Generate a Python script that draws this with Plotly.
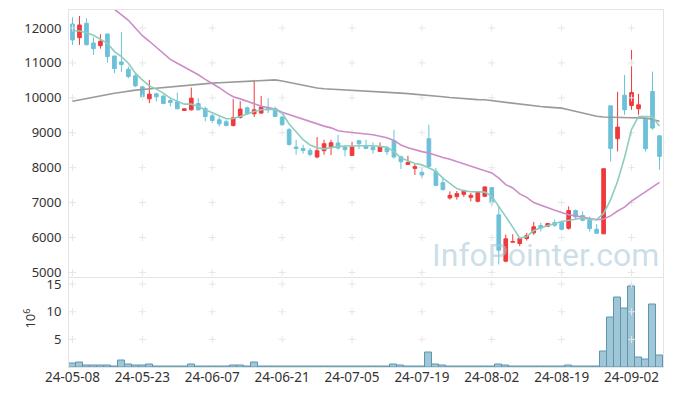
import plotly.graph_objects as go

dates = [
    "24-05-08", "24-05-09", "24-05-10", "24-05-13", "24-05-14", "24-05-16", "24-05-17",
    "24-05-20", "24-05-21", "24-05-22", "24-05-23", "24-05-24", "24-05-27", "24-05-28",
    "24-05-29", "24-05-30", "24-05-31", "24-06-03", "24-06-04", "24-06-05", "24-06-07",
    "24-06-10", "24-06-11", "24-06-12", "24-06-13", "24-06-14", "24-06-17", "24-06-18",
    "24-06-19", "24-06-20", "24-06-21", "24-06-24", "24-06-25", "24-06-26", "24-06-27",
    "24-06-28", "24-07-01", "24-07-02", "24-07-03", "24-07-04", "24-07-05", "24-07-08",
    "24-07-09", "24-07-10", "24-07-11", "24-07-12", "24-07-15", "24-07-16", "24-07-17",
    "24-07-18", "24-07-19", "24-07-22", "24-07-23", "24-07-24", "24-07-25", "24-07-26",
    "24-07-29", "24-07-30", "24-07-31", "24-08-01", "24-08-02", "24-08-05", "24-08-06",
    "24-08-07", "24-08-08", "24-08-09", "24-08-12", "24-08-13", "24-08-14", "24-08-16",
    "24-08-19", "24-08-20", "24-08-21", "24-08-22", "24-08-23", "24-08-26", "24-08-27",
    "24-08-28", "24-08-29", "24-08-30", "24-09-02", "24-09-03", "24-09-04", "24-09-05",
    "24-09-06",
]

open_ = [12114, 11723, 12134, 11571, 11494, 11829, 11200, 11029, 10820, 10629,
         10314, 9971, 10114, 10049, 9923, 9886, 9637, 9657, 9837, 9694,
         9486, 9371, 9314, 9209, 9437, 9714, 9543, 9563, 9714, 9694,
         9449, 9086, 8591, 8551, 8494, 8306, 8486, 8600, 8706, 8591,
         8351, 8771, 8629, 8591, 8466, 8563, 8771, 8314, 8094, 7980,
         7866, 8829, 7886, 7571, 7134, 7171, 7237, 7151, 7037, 7180,
         7429, 6649, 5323, 5866, 5829, 5971, 6134, 6343, 6323, 6429,
         6429, 6266, 6771, 6629, 6494, 6237, 6106, 9771, 8829, 10077,
         9780, 9686, 9391, 10180, 8914]
high = [12306, 12343, 12277, 11734, 11820, 11829, 11200, 11886, 10894, 10706,
        10343, 10506, 10151, 10094, 10020, 10151, 9700, 10294, 9991, 9751,
        9543, 9449, 9371, 9963, 9906, 9751, 10514, 10057, 9991, 9751,
        9466, 9134, 8800, 8657, 8563, 8877, 8800, 8800, 8943, 8651,
        8743, 8800, 8800, 8723, 8723, 8591, 9086, 8343, 8343, 8114,
        7991, 9229, 7991, 7734, 7323, 7334, 7371, 7277, 7334, 7466,
        7449, 6894, 6086, 6094, 6020, 6134, 6449, 6420, 6420, 6514,
        6486, 6894, 6800, 6751, 6600, 6380, 7971, 9771, 10171, 10657,
        11371, 10114, 9391, 10751, 8914]
low = [11514, 11514, 11500, 11229, 11409, 11009, 10706, 10743, 10563, 10306,
       10020, 9849, 9894, 9830, 9751, 9686, 9630, 9637, 9637, 9323,
       9277, 9180, 9180, 9180, 9409, 9514, 9449, 9543, 9563, 9449,
       9200, 8629, 8371, 8400, 8323, 8266, 8371, 8363, 8514, 8323,
       8343, 8534, 8534, 8400, 8457, 8363, 8266, 7963, 8077, 7791,
       7694, 7991, 7466, 7351, 7086, 7086, 7163, 7037, 7009, 7163,
       6894, 5229, 5294, 5866, 5751, 5914, 6077, 6171, 6300, 6306,
       6200, 6229, 6514, 6466, 6171, 6100, 6106, 8180, 8466, 9514,
       9657, 9514, 8466, 9086, 7943]
close = [11657, 12086, 11523, 11409, 11620, 11180, 10837, 10951, 10609, 10343,
         10037, 10106, 10029, 9837, 9866, 9686, 9686, 9991, 9657, 9466,
         9351, 9257, 9209, 9429, 9677, 9543, 9657, 9734, 9657, 9466,
         9229, 8666, 8551, 8494, 8380, 8486, 8686, 8714, 8563, 8514,
         8591, 8686, 8551, 8514, 8591, 8457, 8306, 8171, 8151, 8029,
         7791, 8037, 7494, 7371, 7209, 7257, 7343, 7209, 7314, 7449,
         6991, 5637, 5963, 5886, 5971, 6057, 6306, 6266, 6400, 6351,
         6237, 6771, 6591, 6494, 6257, 6123, 7971, 8551, 9163, 9657,
         10151, 9800, 8543, 9134, 8323]

ma5 = [11920, 11914, 11866, 11791, 11677, 11563, 11323, 11180, 10991, 10706,
       10514, 10343, 10249, 10134, 9991, 9894, 9820, 9820, 9751, 9657,
       9563, 9486, 9400, 9409, 9466, 9540, 9610, 9660, 9677, 9677,
       9560, 9250, 9030, 8800, 8650, 8570, 8540, 8580, 8610, 8620,
       8630, 8630, 8630, 8630, 8620, 8590, 8460, 8280, 8200, 8120,
       8080, 8000, 7900, 7700, 7540, 7400, 7340, 7310, 7310, 7300,
       7180, 6900, 6600, 6300, 5980, 6030, 6200, 6280, 6330, 6400,
       6460, 6500, 6534, 6560, 6520, 6514, 6690, 7080, 7610, 8290,
       9100, 9464, 9463, 9457, 9190]
ma20 = [None, None, None, None, 12850, 12690, 12530, 12380, 12220, 12000,
        11780, 11620, 11450, 11260, 11100, 10990, 10880, 10780, 10660, 10530,
        10420, 10290, 10150, 10030, 9970, 9900, 9840, 9760, 9720, 9680,
        9590, 9520, 9466, 9390, 9310, 9250, 9190, 9140, 9060, 9030,
        9010, 9000, 8970, 8943, 8900, 8860, 8780, 8650, 8570, 8510,
        8460, 8420, 8350, 8290, 8240, 8170, 8100, 8050, 7980, 7910,
        7849, 7700, 7514, 7420, 7250, 7150, 7000, 6920, 6860, 6780,
        6720, 6650, 6620, 6590, 6540, 6510, 6530, 6620, 6760, 6870,
        7040, 7170, 7300, 7440, 7580]
ma_long = [9900, 9940, 9980, 10030, 10070, 10100, 10130, 10160, 10200, 10220,
           10240, 10260, 10280, 10300, 10320, 10340, 10360, 10380, 10400, 10410,
           10420, 10430, 10440, 10455, 10465, 10477, 10490, 10500, 10510, 10514,
           10480, 10440, 10400, 10360, 10310, 10280, 10260, 10250, 10240, 10230,
           10220, 10210, 10200, 10190, 10180, 10165, 10150, 10135, 10120, 10105,
           10094, 10080, 10060, 10030, 10010, 9990, 9975, 9960, 9950, 9945,
           9920, 9890, 9865, 9845, 9810, 9790, 9770, 9750, 9735, 9720,
           9706, 9660, 9610, 9560, 9510, 9475, 9450, 9440, 9437, 9435,
           9430, 9425, 9420, 9380, 9330]

volume = [0.55, 0.9, 0.35, 0.35, 0.35, 0.35, 0.15, 1.1, 0.4, 0.25,
          0.25, 0.4, 0.15, 0.15, 0.15, 0.15, 0.15, 0.4, 0.15, 0.15,
          0.15, 0.05, 0.05, 0.35, 0.35, 0.15, 0.8, 0.15, 0.15, 0.05,
          0.05, 0.15, 0.05, 0.05, 0.05, 0.15, 0.05, 0.05, 0.05, 0.05,
          0.05, 0.05, 0.05, 0.05, 0.05, 0.05, 0.4, 0.2, 0.05, 0.05,
          0.05, 2.6, 0.4, 0.2, 0.05, 0.05, 0.05, 0.05, 0.05, 0.05,
          0.05, 0.4, 0.2, 0.05, 0.05, 0.05, 0.05, 0.05, 0.05, 0.05,
          0.05, 0.2, 0.05, 0.05, 0.05, 0.05, 2.75, 9.05, 12.65, 10.67,
          14.6, 1.7, 1.4, 11.4, 2.0]

price_ticks = [5000, 6000, 7000, 8000, 9000, 10000, 11000, 12000]
price_labels = ["5000", "6000", "7000", "8000", "9000", "10000", "11000", "12000"]
volume_ticks = [5, 10, 15]
volume_labels = ["5", "10", "15"]
x_ticks = dates[::10]

RED = "#F0393C"
BLUE = "#6CC1D8"
GRID = "#e6e6e6"
FRAME = "#e4e4e4"
FONT = "Noto Sans"

fig = go.Figure()

# grid crosses (price panel)
fig.add_trace(go.Scatter(
    x=[d for d in x_ticks for _ in price_ticks],
    y=[v for _ in x_ticks for v in price_ticks],
    mode="markers", xaxis="x", yaxis="y",
    marker=dict(symbol="cross-thin", size=5, line=dict(color=GRID, width=1)),
    hoverinfo="skip", showlegend=False))
# grid crosses (volume panel)
fig.add_trace(go.Scatter(
    x=[d for d in x_ticks for _ in volume_ticks],
    y=[v for _ in x_ticks for v in volume_ticks],
    mode="markers", xaxis="x2", yaxis="y2",
    marker=dict(symbol="cross-thin", size=5, line=dict(color=GRID, width=1)),
    hoverinfo="skip", showlegend=False))

fig.add_trace(go.Candlestick(
    x=dates, open=open_, high=high, low=low, close=close,
    xaxis="x", yaxis="y",
    increasing=dict(line=dict(color=RED, width=1), fillcolor=RED),
    decreasing=dict(line=dict(color=BLUE, width=1), fillcolor=BLUE),
    whiskerwidth=0, showlegend=False))

fig.add_trace(go.Scatter(x=dates, y=ma_long, mode="lines", xaxis="x", yaxis="y",
                         line=dict(color="#9a9a9a", width=1.6), showlegend=False))
fig.add_trace(go.Scatter(x=dates, y=ma20, mode="lines", xaxis="x", yaxis="y",
                         line=dict(color="#CC8CC8", width=1.6), showlegend=False))
fig.add_trace(go.Scatter(x=dates, y=ma5, mode="lines", xaxis="x", yaxis="y",
                         line=dict(color="#8CCDBF", width=1.6), showlegend=False))

fig.add_trace(go.Bar(x=dates, y=volume, xaxis="x2", yaxis="y2",
                     marker=dict(color="rgba(130,180,202,0.75)",
                                 line=dict(color="#5B97B2", width=1)),
                     showlegend=False))

tickfont = dict(family=FONT, size=13, color="#333333")
xtickfont = dict(family=FONT, size=13.5, color="#333333")
x_range = [-0.5, len(dates) - 0.5]

fig.update_layout(
    width=673, height=396,
    margin=dict(l=69, r=10, t=10, b=29, autoexpand=False),
    paper_bgcolor="white", plot_bgcolor="white",
    bargap=0, boxgap=0.25,
    xaxis=dict(domain=[0, 1], anchor="y", type="category", categoryorder="array",
               categoryarray=dates, range=x_range, autorange=False,
               showticklabels=False, showgrid=False,
               rangeslider=dict(visible=False), showline=True, mirror=True,
               linecolor=FRAME, linewidth=1, zeroline=False, automargin=False),
    yaxis=dict(domain=[0.2521, 1], range=[4870, 12515], tickvals=price_ticks,
               ticktext=price_labels,
               showgrid=False, zeroline=False, showline=True, mirror=True,
               linecolor=FRAME, linewidth=1, tickfont=tickfont, automargin=False,
               ticks="outside", ticklen=4, tickcolor="rgba(0,0,0,0)"),
    xaxis2=dict(domain=[0, 1], anchor="y2", matches="x", type="category",
                categoryorder="array", categoryarray=dates,
                tickvals=x_ticks, ticktext=x_ticks, showgrid=False,
                showline=True, mirror=True, linecolor=FRAME, linewidth=1,
                tickfont=xtickfont, ticks="", automargin=False, zeroline=False,
                ticklabelstandoff=-2),
    yaxis2=dict(domain=[0, 0.2507], range=[0, 16.2], tickvals=volume_ticks,
                ticktext=volume_labels,
                showgrid=False, zeroline=False, showline=True, mirror=True,
                linecolor=FRAME, linewidth=1, tickfont=tickfont, automargin=False,
                ticks="outside", ticklen=4, tickcolor="rgba(0,0,0,0)"),
    annotations=[
        dict(text="InfoPointer.com", xref="paper", yref="paper", x=0.607, y=0.315,
             xanchor="left", yanchor="middle", showarrow=False,
             font=dict(family="Roboto", size=32, color="rgba(170,200,218,0.6)")),
        dict(text="10<sup>6</sup>", xref="paper", yref="paper", x=-0.066, y=0.135,
             xanchor="center", yanchor="middle", showarrow=False, textangle=-90,
             font=dict(family=FONT, size=13, color="#333333")),
    ],
)

fig.write_html("out.html", config={"displayModeBar": False},
               post_script="document.body.style.margin='0';document.body.style.overflow='hidden';")
